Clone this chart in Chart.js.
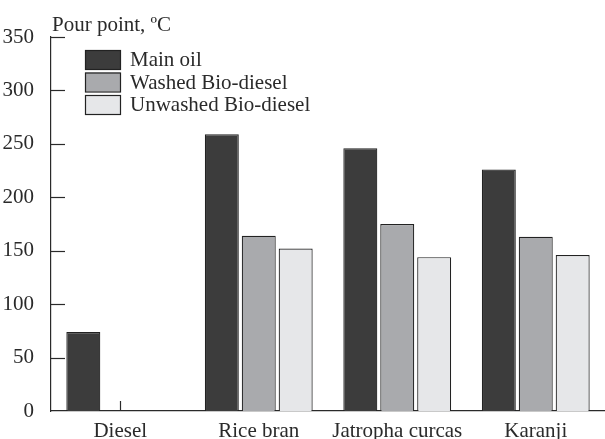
<!DOCTYPE html>
<html>
<head>
<meta charset="utf-8">
<script src="https://cdn.jsdelivr.net/npm/chart.js@4.4.0/dist/chart.umd.min.js"></script>
<style>
  html, body { margin: 0; padding: 0; background: #fff; }
  #wrap { width: 605px; height: 439px; position: relative; }
</style>
</head>
<body>
<div id="wrap"><canvas id="chart"></canvas></div>
<script>
const categories = ['Diesel', 'Rice bran', 'Jatropha curcas', 'Karanji'];
const mainOil = [74, 259, 246, 226];
const washedBio = [0, 164, 175, 163];
const unwashedBio = [0, 152, 144, 146];
const yTicks = [0, 50, 100, 150, 200, 250, 300, 350];

const FONT = '"Liberation Serif", "Times New Roman", serif';
const INK = '#2a2a2a';

// inside tick marks, axis title and legend drawn on the canvas
const decorations = {
  id: 'decorations',
  beforeDatasetsDraw(chart) {
    const { ctx, chartArea, scales } = chart;
    ctx.save();
    ctx.strokeStyle = INK;
    ctx.lineWidth = 1.2;
    yTicks.forEach(v => {
      const y = Math.round(scales.y.getPixelForValue(v)) + 0.5;
      if (v === 0) return;
      ctx.beginPath();
      ctx.moveTo(chartArea.left, y);
      ctx.lineTo(chartArea.left + 14, y);
      ctx.stroke();
    });
    categories.forEach((c, i) => {
      const x = Math.round(scales.x.getPixelForValue(i)) + 0.5;
      ctx.beginPath();
      ctx.moveTo(x, chartArea.bottom);
      ctx.lineTo(x, chartArea.bottom - 10);
      ctx.stroke();
    });
    ctx.restore();
  },
  afterDraw(chart) {
    const { ctx, chartArea } = chart;
    ctx.save();
    ctx.fillStyle = INK;
    ctx.font = '21px ' + FONT;
    ctx.textBaseline = 'alphabetic';
    ctx.textAlign = 'left';
    ctx.fillText('Pour point, ºC', chartArea.left + 1, 31);

    const x0 = 85, y0 = 50, bw = 35, bh = 19, step = 22.5;
    chart.data.datasets.forEach((ds, i) => {
      const y = y0 + i * step;
      ctx.fillStyle = ds.backgroundColor;
      ctx.fillRect(x0, y, bw, bh);
      ctx.strokeStyle = '#222';
      ctx.lineWidth = 1.2;
      ctx.strokeRect(x0 + 0.5, y + 0.5, bw, bh);
      ctx.fillStyle = INK;
      ctx.textBaseline = 'middle';
      ctx.fillText(ds.label, 130, y + bh / 2 + 1);
    });
    ctx.restore();
  }
};

new Chart(document.getElementById('chart'), {
  type: 'bar',
  data: {
    labels: categories,
    datasets: [
      { label: 'Main oil', data: mainOil, backgroundColor: '#3c3c3c' },
      { label: 'Washed Bio-diesel', data: washedBio, backgroundColor: '#a9aaad' },
      { label: 'Unwashed Bio-diesel', data: unwashedBio, backgroundColor: '#e6e7e9' }
    ].map(ds => Object.assign(ds, {
      borderColor: '#222',
      borderWidth: 1.2,
      borderSkipped: 'bottom',
      categoryPercentage: 0.8,
      barPercentage: 0.92
    }))
  },
  options: {
    responsive: true,
    maintainAspectRatio: false,
    animation: false,
    layout: { padding: { top: 37, right: 0, left: 0, bottom: 0 } },
    plugins: {
      legend: { display: false },
      tooltip: { enabled: false }
    },
    scales: {
      x: {
        grid: { display: false },
        border: { display: true, color: INK, width: 1.2 },
        ticks: { color: INK, font: { family: FONT, size: 21 }, padding: 0, maxRotation: 0, autoSkip: false },
        afterFit(scale) { scale.height = 28; }
      },
      y: {
        min: 0,
        max: 350,
        grid: { display: false },
        border: { display: true, color: INK, width: 1.2 },
        ticks: { stepSize: 50, color: INK, font: { family: FONT, size: 21 }, padding: 9 },
        afterFit(scale) { scale.width = 51; }
      }
    }
  },
  plugins: [decorations]
});
</script>
</body>
</html>
